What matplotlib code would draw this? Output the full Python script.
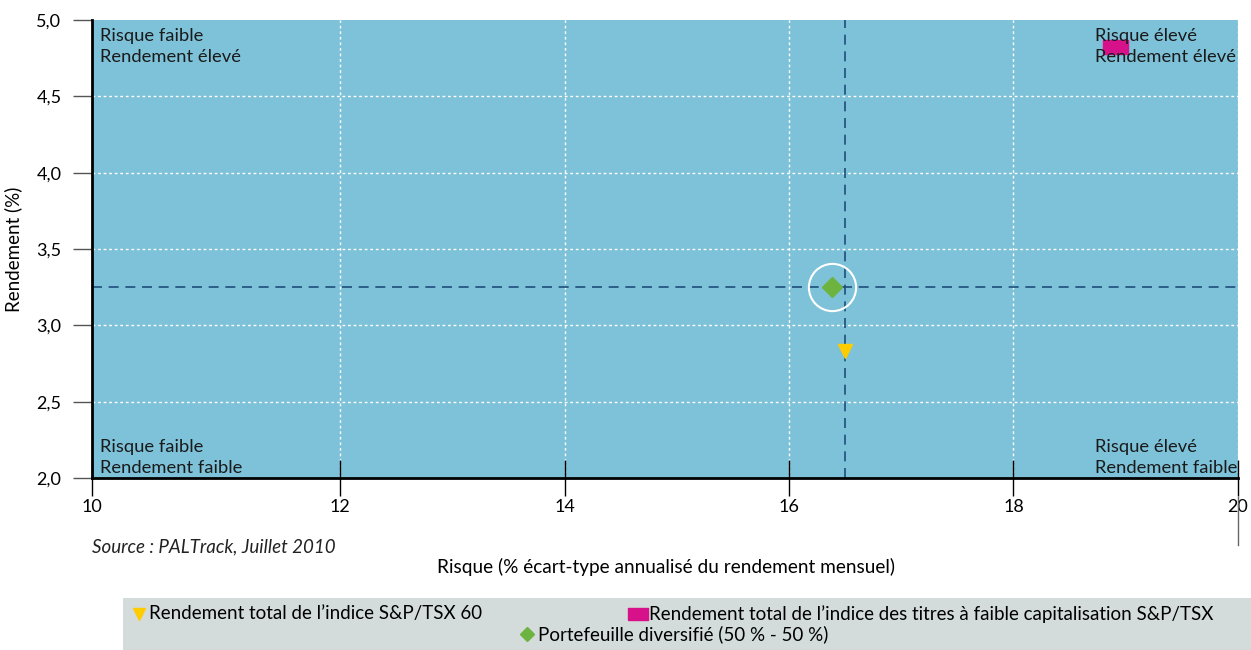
import matplotlib.pyplot as plt
from matplotlib.lines import Line2D
from matplotlib.patches import Rectangle

plt.rcParams['font.family'] = ['Lato', 'DejaVu Sans']

# Données : risque (%) et rendement (%)
risque_tsx60 = [16.50]
rendement_tsx60 = [2.83]
risque_petites = [18.90]
rendement_petites = [4.82]
risque_mixte = [16.38]
rendement_mixte = [3.25]

x_min = 9.79  # l'axe du graphique d'origine commence un peu avant 10
x_ticks = [x_min, 12, 14, 16, 18, 20]
x_labels = ['10', '12', '14', '16', '18', '20']
y_ticks = [2.0, 2.5, 3.0, 3.5, 4.0, 4.5, 5.0]
y_labels = ['2,0', '2,5', '3,0', '3,5', '4,0', '4,5', '5,0']

legende = ["Rendement total de l\u2019indice S&P/TSX 60",
           "Rendement total de l\u2019indice des titres \u00e0 faible capitalisation S&P/TSX",
           "Portefeuille diversifi\u00e9 (50 % - 50 %)"]

fond = '#7dc2d9'
bleu_fonce = '#1f4e79'
rect_marker = [(-1, -0.55), (1, -0.55), (1, 0.55), (-1, 0.55), (-1, -0.55)]

fig = plt.figure(figsize=(12.51, 6.5), dpi=100)
ax = fig.add_axes([0.0735, 0.2646, 0.9161, 0.7046])
ax.set_facecolor(fond)
ax.set_xlim(x_min, 20)
ax.set_ylim(2.0, 5.0)

# grille blanche pointillée
for xv in x_ticks[1:]:
    ax.axvline(xv, color='white', linestyle=(0, (2, 2)), linewidth=1, zorder=1)
for yv in y_ticks[1:-1]:
    ax.axhline(yv, color='white', linestyle=(0, (2, 2)), linewidth=1, zorder=1)

# lignes de séparation des quadrants
ax.axhline(rendement_mixte[0], color=bleu_fonce, linestyle=(0, (6, 4)), linewidth=1.2, zorder=2)
ax.axvline(risque_tsx60[0], color=bleu_fonce, linestyle=(0, (6, 4)), linewidth=1.2, zorder=2)

# points
ax.plot(risque_tsx60, rendement_tsx60, marker='v', color='#ffcc00', markersize=10,
        linestyle='none', zorder=4)
ax.plot(risque_petites, rendement_petites, marker=rect_marker, color='#d6118a',
        markersize=18, linestyle='none', zorder=4)
ax.plot(risque_mixte, rendement_mixte, marker='D', color='#6db33f', markersize=10,
        linestyle='none', zorder=4)
ax.plot(risque_mixte, rendement_mixte, marker='o', markerfacecolor='none',
        markeredgecolor='white', markeredgewidth=1.5, markersize=34, linestyle='none', zorder=3)

# textes des quadrants
kw = dict(fontsize=13.2, color='#1a1a1a', linespacing=1.38, zorder=5)
ax.text(9.86, 4.95, "Risque faible\nRendement \u00e9lev\u00e9", va='top', ha='left', **kw)
ax.text(18.73, 4.95, "Risque \u00e9lev\u00e9\nRendement \u00e9lev\u00e9", va='top', ha='left', **kw)
ax.text(9.86, 2.015, "Risque faible\nRendement faible", va='bottom', ha='left', **kw)
ax.text(18.73, 2.015, "Risque \u00e9lev\u00e9\nRendement faible", va='bottom', ha='left', **kw)

for s in ['top', 'right']:
    ax.spines[s].set_visible(False)
ax.spines['left'].set_linewidth(2)
ax.spines['bottom'].set_linewidth(2)
ax.spines['left'].set_color('black')
ax.spines['bottom'].set_color('black')

ax.set_xticks(x_ticks)
ax.set_xticklabels(x_labels, fontsize=13)
ax.set_yticks(y_ticks)
ax.set_yticklabels(y_labels, fontsize=13)
ax.tick_params(axis='x', direction='inout', length=26, width=1, color='black', pad=2)
ax.tick_params(axis='y', direction='out', length=14, width=1, color='#555555', pad=8)

ax.set_ylabel('Rendement (%)', fontsize=13.5, labelpad=10)
fig.text(0.532, 0.128, "Risque (% \u00e9cart-type annualis\u00e9 du rendement mensuel)",
         ha='center', va='center', fontsize=13.7)
fig.text(0.0735, 0.158, "Source : PALTrack, Juillet 2010", ha='left', va='center',
         fontsize=13.5, style='italic', color='#222222')

# petit trait sous le 20
fig.add_artist(Line2D([0.9896, 0.9896], [0.162, 0.235], color='#666666', linewidth=1))

# légende
fig.add_artist(Rectangle((0.098, 0.0), 0.902, 0.08, transform=fig.transFigure,
                         facecolor='#d3dcdb', edgecolor='none'))
fs = 13.5
fig.add_artist(Line2D([0.111], [0.056], marker='v', color='#ffcc00', markersize=8,
                      transform=fig.transFigure))
fig.text(0.119, 0.056, legende[0], ha='left', va='center', fontsize=fs)
fig.add_artist(Line2D([0.510], [0.056], marker=rect_marker, color='#d6118a', markersize=15,
                      transform=fig.transFigure))
fig.text(0.519, 0.056, legende[1], ha='left', va='center', fontsize=fs)
fig.add_artist(Line2D([0.421], [0.024], marker='D', color='#6db33f', markersize=7,
                      transform=fig.transFigure))
fig.text(0.430, 0.024, legende[2], ha='left', va='center', fontsize=fs)

fig.savefig('out.png', dpi=100)
